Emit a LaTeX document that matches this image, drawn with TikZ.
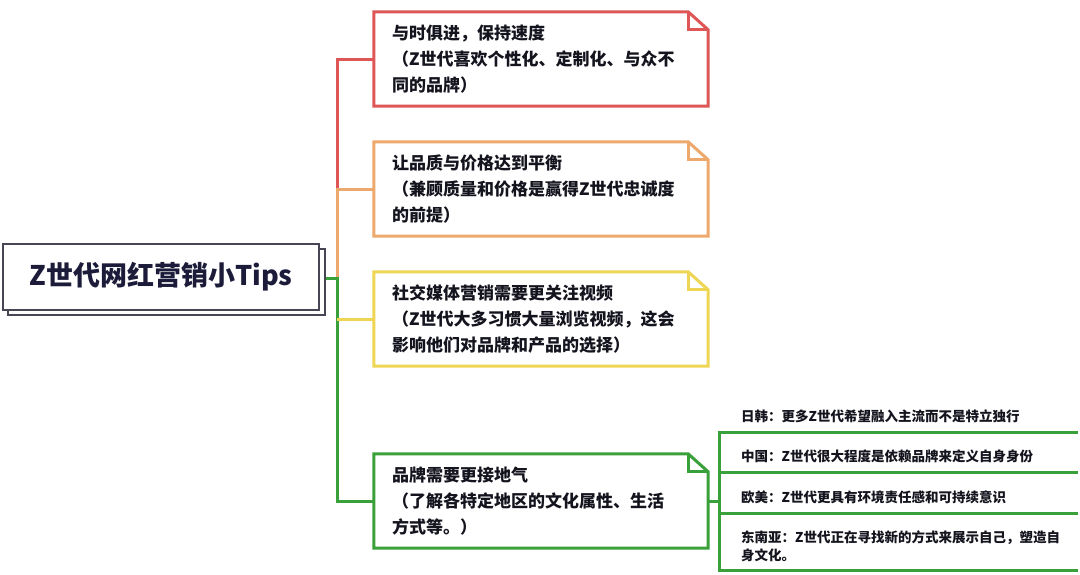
\documentclass[tikz,border=0pt]{standalone}
\usepackage{fontspec}
\setmainfont{Noto Sans CJK SC}
\definecolor{cred}{RGB}{222,86,86}
\definecolor{corange}{RGB}{237,168,108}
\definecolor{cyellow}{RGB}{238,214,84}
\definecolor{cgreen}{RGB}{58,160,58}
\definecolor{cframe}{RGB}{70,70,85}
\definecolor{ctext}{RGB}{20,20,30}
\definecolor{croot}{RGB}{28,28,58}
\tikzset{
  tipbox/.style={draw=none, rectangle, minimum width=334pt, minimum height=94pt,
    inner xsep=18pt, text width=298pt, align=left, text=ctext,
    font=\fontsize{17}{26}\selectfont\bfseries},
  subtxt/.style={anchor=west, inner sep=0pt, align=left, text=ctext,
    font=\fontsize{13.5}{18}\selectfont\bfseries},
  conn/.style={line width=3pt},
  boxline/.style={line width=3pt, line join=miter},
}
\newcommand{\foldbox}[2]{%
  \draw[boxline,#2] (#1.north west) -- ([xshift=-20pt]#1.north east) -- ([yshift=-18pt]#1.north east) -- (#1.south east) -- (#1.south west) -- cycle;
  \draw[boxline,#2] ([xshift=-20pt]#1.north east) -- ([xshift=-20pt,yshift=-18pt]#1.north east) -- ([yshift=-18pt]#1.north east);
}
\begin{document}
\begin{tikzpicture}[x=1pt,y=-1pt]
\useasboundingbox (0,0) rectangle (1080,574);
\fill[white] (0,0) rectangle (1080,574);

% root
\node[draw=cframe, line width=1.3pt, fill=white, minimum width=317pt, minimum height=66pt] (rootsh) at (166.5,282) {};
\node[draw=cframe, line width=1.3pt, fill=white, minimum width=316pt, minimum height=66pt,
  font=\fontsize{27}{30}\selectfont\bfseries, text=croot] (root) at (161,277) {Z世代网红营销小Tips};

% boxes
\node[tipbox] (b1) at (541,59) {与时俱进，保持速度\\（Z世代喜欢个性化、定制化、与众不\\同的品牌）};
\node[tipbox] (b2) at (541,189) {让品质与价格达到平衡\\（兼顾质量和价格是赢得Z世代忠诚度\\的前提）};
\node[tipbox] (b3) at (541,319) {社交媒体营销需要更关注视频\\（Z世代大多习惯大量浏览视频，这会\\影响他们对品牌和产品的选择）};
\node[tipbox] (b4) at (541,501) {品牌需要更接地气\\（了解各特定地区的文化属性、生活\\方式等。）};
\foldbox{b1}{cred}
\foldbox{b2}{corange}
\foldbox{b3}{cyellow}
\foldbox{b4}{cgreen}

% trunk coordinates
\coordinate (t2) at (337,189);
\coordinate (t3) at (337,278);
\draw[conn,cred] (b1.west) -| (t2);
\draw[conn,corange] (b2.west) -| (t3);
\draw[conn,cgreen] (rootsh.east |- t3) -- (t3) |- (b4.west);
\draw[conn,cyellow] (b3.west) -- (b3.west -| t3);

% sub topics
\node[subtxt] (s1) at (741,416) {日韩：更多Z世代希望融入主流而不是特立独行};
\node[subtxt] (s2) at (741,456) {中国：Z世代很大程度是依赖品牌来定义自身身份};
\node[subtxt] (s3) at (741,497) {欧美：Z世代更具有环境责任感和可持续意识};
\node[subtxt] (s4) at (741,546) {东南亚：Z世代正在寻找新的方式来展示自己，塑造自\\身文化。};
\coordinate (g0) at (719,501);
\coordinate (g1) at (719,432);
\coordinate (g2) at (719,472);
\coordinate (g3) at (719,513);
\coordinate (g4) at (719,570);
\draw[conn,cgreen] (b4.east) -- (g0);
\draw[conn,cgreen] (g1) -- (g4);
\foreach \g in {g1,g2,g3,g4} \draw[conn,cgreen] ([xshift=-1.5pt]\g) -- (\g -| 1078,0);
\end{tikzpicture}
\end{document}
